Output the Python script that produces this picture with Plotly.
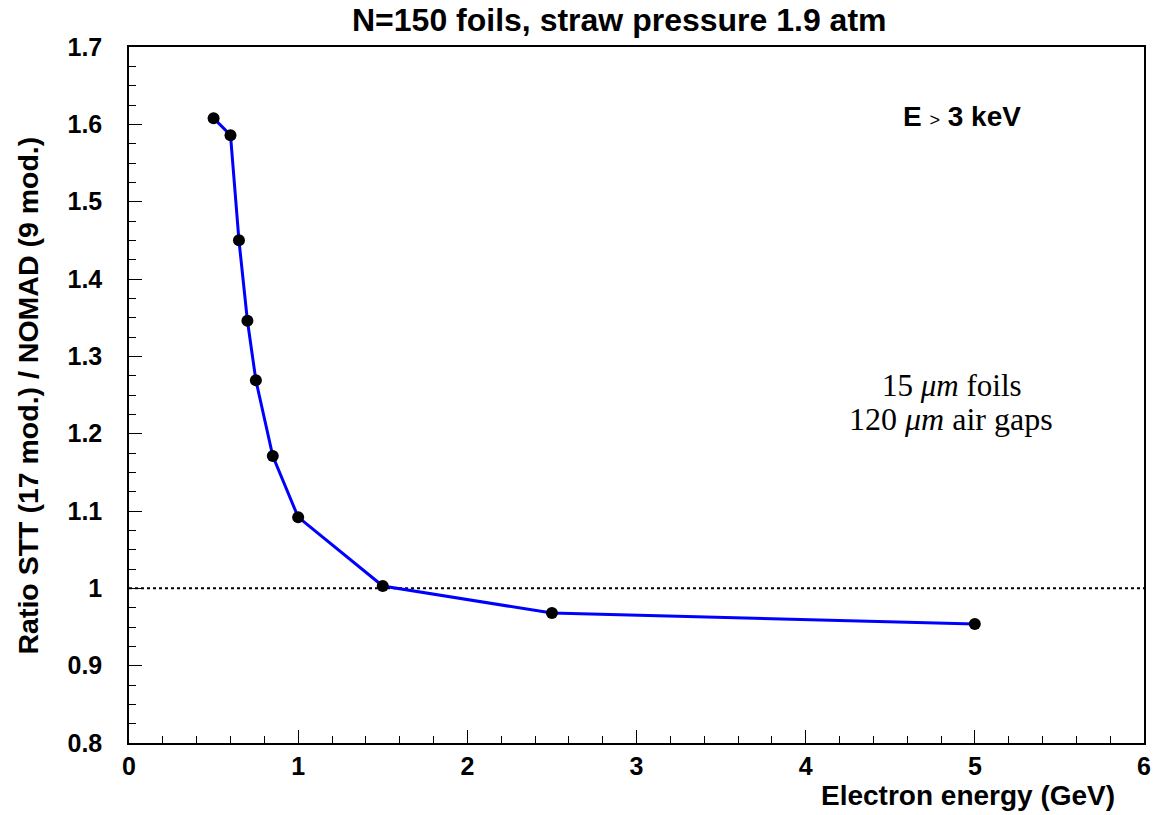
import plotly.graph_objects as go

energy = [0.5, 0.6, 0.65, 0.7, 0.75, 0.85, 1.0, 1.5, 2.5, 5.0]
ratio = [1.608, 1.586, 1.450, 1.346, 1.269, 1.171, 1.092, 1.003, 0.968, 0.954]

title_text = "N=150 foils, straw pressure 1.9 atm"
x_title = "Electron energy (GeV)"
y_title = "Ratio STT (17 mod.) / NOMAD (9 mod.)"

W, H = 1163, 815
L, R, T, B = 129, 14, 47, 72
pw, ph = W - L - R, H - T - B

def px(x):
    return (x - L) / pw

def py(y):
    return (H - B - y) / ph

sans = "Liberation Sans, Arial, Helvetica, sans-serif"
serif = "Liberation Serif, Times New Roman, serif"

fig = go.Figure()
fig.add_trace(go.Scatter(
    x=energy, y=ratio, mode="lines+markers",
    line=dict(color="#0000ff", width=3),
    marker=dict(color="black", size=12),
    showlegend=False, hoverinfo="skip",
))

fig.add_shape(type="line", x0=0, x1=6, y0=1, y1=1, xref="x", yref="y",
              line=dict(color="black", width=2, dash="dot"), layer="below")

axis_common = dict(
    showline=True, linecolor="black", linewidth=1.5, mirror=True,
    showgrid=False, zeroline=False, ticks="inside", tickcolor="black",
    tickwidth=1, ticklen=13,
    tickfont=dict(family=sans, size=25, color="black", weight="bold"),
)

fig.update_xaxes(range=[0, 6], dtick=1, tick0=0,
                 minor=dict(ticks="inside", dtick=0.2, ticklen=7, tickcolor="black", showgrid=False),
                 ticklabelstandoff=0, **axis_common)
fig.update_yaxes(range=[0.8, 1.7], dtick=0.1, tick0=0.8, tickformat="~g",
                 minor=dict(ticks="inside", dtick=0.025, ticklen=7, tickcolor="black", showgrid=False),
                 ticklabelstandoff=20, **axis_common)

ann = []
ann.append(dict(text=title_text, x=px(621), y=py(20), xref="paper", yref="paper",
                xanchor="center", yanchor="middle", showarrow=False,
                font=dict(family=sans, size=32, color="black", weight="bold")))
ann.append(dict(text=x_title, x=px(1122), y=py(795), xref="paper", yref="paper",
                xanchor="right", yanchor="middle", showarrow=False,
                font=dict(family=sans, size=28, color="black", weight="bold")))
ann.append(dict(text=y_title, x=px(27), y=py(396), xref="paper", yref="paper",
                xanchor="center", yanchor="middle", showarrow=False, textangle=-90,
                font=dict(family=sans, size=28.5, color="black", weight="bold")))
ann.append(dict(text="E <span style='font-size:18px;font-weight:normal'>&gt;</span> 3 keV",
                x=px(966), y=py(116), xref="paper", yref="paper",
                xanchor="center", yanchor="middle", showarrow=False,
                font=dict(family=sans, size=28, color="black", weight="bold")))
ann.append(dict(text="15 <i>μm</i> foils", x=px(956), y=py(386), xref="paper", yref="paper",
                xanchor="center", yanchor="middle", showarrow=False,
                font=dict(family=serif, size=31, color="black")))
ann.append(dict(text="120 <i>μm</i> air gaps", x=px(955), y=py(419), xref="paper", yref="paper",
                xanchor="center", yanchor="middle", showarrow=False,
                font=dict(family=serif, size=32, color="black")))

fig.update_layout(
    width=W, height=H, autosize=False,
    margin=dict(l=L, r=R, t=T, b=B),
    paper_bgcolor="white", plot_bgcolor="white",
    annotations=ann,
)

fig.write_html("out.html")
